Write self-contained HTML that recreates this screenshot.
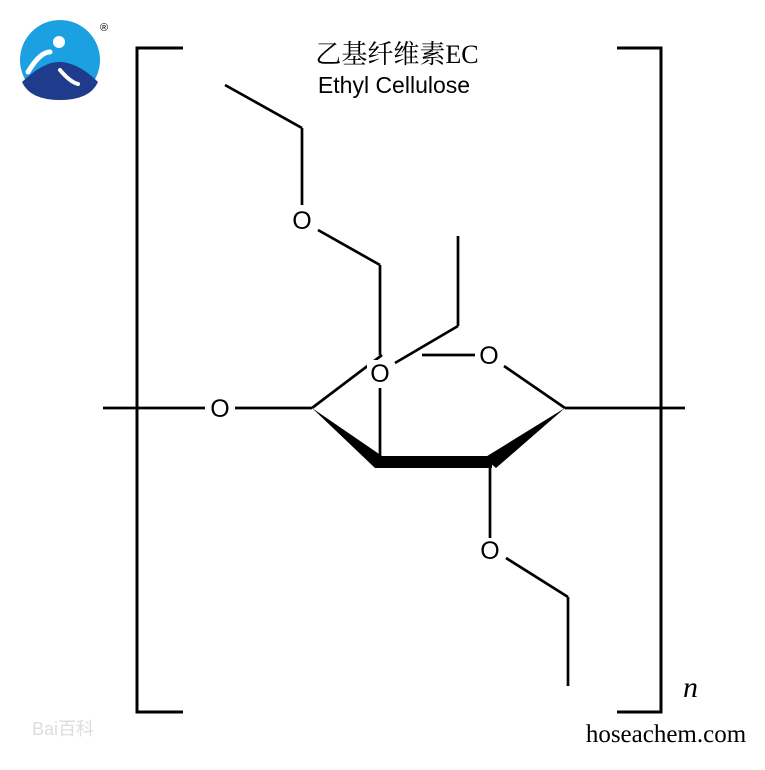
<!DOCTYPE html><html><head><style>body{margin:0;background:#fff}</style></head><body>
<svg width="765" height="765" viewBox="0 0 765 765" xmlns="http://www.w3.org/2000/svg">
<rect width="765" height="765" fill="#fff"/>
<circle cx="60" cy="60" r="40" fill="#1ba1e2"/>
<path d="M22,82 Q45,60 62,62 Q80,64 98,82 Q90,100 60,100 Q30,100 22,82Z" fill="#1f3b8c"/>
<circle cx="59" cy="42" r="6" fill="#fff"/>
<path d="M28,72 Q40,52 50,52" stroke="#fff" stroke-width="5" fill="none" stroke-linecap="round"/>
<path d="M60,70 Q70,82 78,84" stroke="#fff" stroke-width="4" fill="none" stroke-linecap="round"/>
<text x="100" y="31" font-family="Liberation Sans,sans-serif" font-size="11">®</text>
<g stroke="#000" stroke-width="3" fill="none">
<path d="M183,48 H137 V712 H183"/>
<path d="M617,48 H661 V712 H617"/>
</g>
<g stroke="#000" stroke-width="2.7" fill="none">
<line x1="103" y1="408" x2="205" y2="408"/>
<line x1="235" y1="408" x2="312" y2="408"/>
<line x1="565" y1="408" x2="685" y2="408"/>
<line x1="312" y1="408" x2="382" y2="355"/>
<line x1="422" y1="355" x2="475" y2="355"/>
<line x1="504" y1="366" x2="565" y2="408"/>
<line x1="380" y1="355" x2="380" y2="265"/>
<line x1="380" y1="265" x2="318" y2="230"/>
<line x1="302" y1="205" x2="302" y2="128"/>
<line x1="302" y1="128" x2="225" y2="85"/>
<line x1="380" y1="388" x2="380" y2="462"/>
<line x1="395" y1="363" x2="458" y2="326"/>
<line x1="458" y1="326" x2="458" y2="236"/>
<line x1="490" y1="462" x2="490" y2="538"/>
<line x1="506" y1="558" x2="568" y2="597"/>
<line x1="568" y1="597" x2="568" y2="686"/>
</g>
<polygon points="312,408 385,458 375,468" fill="#000"/>
<polygon points="375,456 492,456 492,468 375,468" fill="#000"/>
<polygon points="565,408 484,458 496,468" fill="#000"/>
<g font-family="Liberation Sans,sans-serif" font-size="25" text-anchor="middle" fill="#000">
<rect x="207" y="395" width="26" height="26" fill="#fff"/>
<text x="220" y="417">O</text>
<text x="489" y="364">O</text>
<text x="302" y="229">O</text>
<rect x="367" y="360" width="26" height="26" fill="#fff"/>
<text x="380" y="382">O</text>
<text x="490" y="559">O</text>
</g>
<text x="397" y="63" font-family="Liberation Serif,'Noto Serif CJK SC',serif" font-size="26" text-anchor="middle">乙基纤维素EC</text>
<text x="394" y="93" font-family="Liberation Sans,sans-serif" font-size="23" text-anchor="middle">Ethyl Cellulose</text>
<text x="683" y="697" font-family="Liberation Serif,serif" font-style="italic" font-size="30">n</text>
<text x="666" y="742" font-family="Liberation Serif,serif" font-size="25" text-anchor="middle">hoseachem.com</text>
<text x="32" y="735" font-family="Liberation Sans,'Noto Sans CJK SC',sans-serif" font-size="18" fill="#ddd">Bai百科</text>
</svg>
</body></html>
